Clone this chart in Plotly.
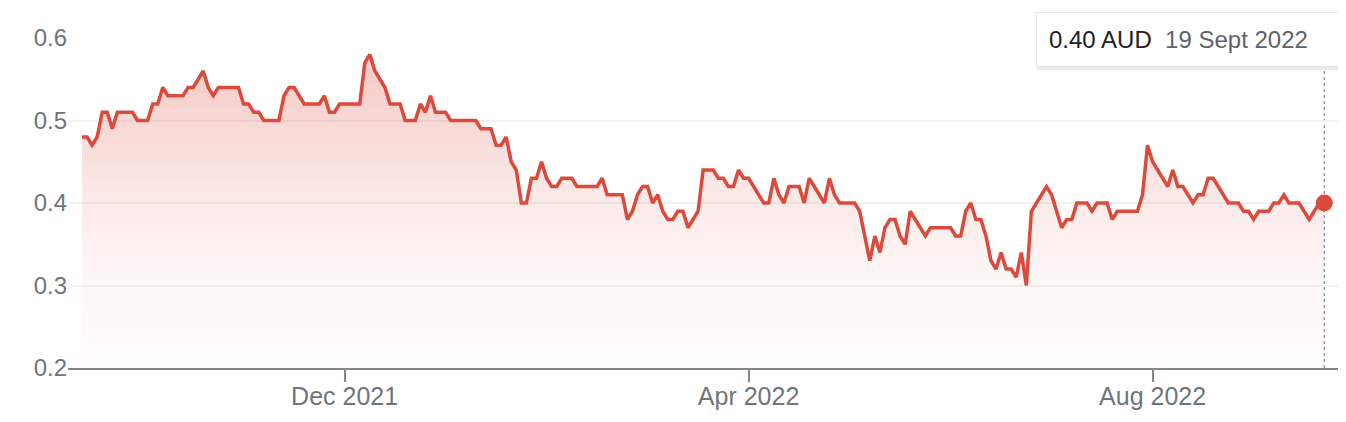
import plotly.graph_objects as go

# Daily closing price (AUD), one value per trading session, oldest first
prices = [
    0.48, 0.48, 0.47, 0.48, 0.51, 0.51, 0.49, 0.51, 0.51, 0.51,
    0.51, 0.50, 0.50, 0.50, 0.52, 0.52, 0.54, 0.53, 0.53, 0.53,
    0.53, 0.54, 0.54, 0.55, 0.56, 0.54, 0.53, 0.54, 0.54, 0.54,
    0.54, 0.54, 0.52, 0.52, 0.51, 0.51, 0.50, 0.50, 0.50, 0.50,
    0.53, 0.54, 0.54, 0.53, 0.52, 0.52, 0.52, 0.52, 0.53, 0.51,
    0.51, 0.52, 0.52, 0.52, 0.52, 0.52, 0.57, 0.58, 0.56, 0.55,
    0.54,
    0.52, 0.52, 0.52, 0.50, 0.50, 0.50, 0.52, 0.51, 0.53, 0.51,
    0.51, 0.51, 0.50, 0.50, 0.50, 0.50, 0.50, 0.50, 0.49, 0.49,
    0.49, 0.47, 0.47, 0.48, 0.45, 0.44, 0.40, 0.40, 0.43, 0.43,
    0.45, 0.43, 0.42, 0.42, 0.43, 0.43, 0.43, 0.42, 0.42, 0.42,
    0.42, 0.42, 0.43, 0.41, 0.41, 0.41, 0.41, 0.38, 0.39, 0.41,
    0.42, 0.42, 0.40, 0.41, 0.39, 0.38, 0.38, 0.39, 0.39, 0.37,
    0.38, 0.39,
    0.44, 0.44, 0.44, 0.43, 0.43, 0.42, 0.42, 0.44, 0.43, 0.43,
    0.42, 0.41, 0.40, 0.40, 0.43, 0.41, 0.40, 0.42, 0.42, 0.42,
    0.40, 0.43, 0.42, 0.41, 0.40, 0.43, 0.41, 0.40, 0.40, 0.40,
    0.40, 0.39, 0.36, 0.33, 0.36, 0.34, 0.37, 0.38, 0.38, 0.36,
    0.35, 0.39, 0.38, 0.37, 0.36, 0.37, 0.37, 0.37, 0.37, 0.37,
    0.36, 0.36, 0.39, 0.40, 0.38, 0.38, 0.36, 0.33, 0.32, 0.34,
    0.32, 0.32,
    0.31, 0.34, 0.30, 0.39, 0.40, 0.41, 0.42, 0.41, 0.39, 0.37,
    0.38, 0.38, 0.40, 0.40, 0.40, 0.39, 0.40, 0.40, 0.40, 0.38,
    0.39, 0.39, 0.39, 0.39, 0.39, 0.41, 0.47, 0.45, 0.44, 0.43,
    0.42, 0.44, 0.42, 0.42, 0.41, 0.40, 0.41, 0.41, 0.43, 0.43,
    0.42, 0.41, 0.40, 0.40, 0.40, 0.39, 0.39, 0.38, 0.39, 0.39,
    0.39, 0.40, 0.40, 0.41, 0.40, 0.40, 0.40, 0.39, 0.38, 0.39,
    0.40, 0.40,
]
sessions = list(range(len(prices)))

# Month ticks: session index of the first session of each labelled month
tick_sessions = [52, 132, 212]
tick_labels = ["Dec 2021", "Apr 2022", "Aug 2022"]

y_ticks = [0.2, 0.3, 0.4, 0.5, 0.6]

last_price_label = "0.40 AUD"
last_date_label = "19 Sept 2022"

RED = "#db4a3b"
FONT = "Arial, 'Liberation Sans', Helvetica, sans-serif"
GREY = "#70757a"

fig = go.Figure()
fig.add_trace(go.Scatter(
    x=sessions, y=prices, mode="lines",
    line=dict(color=RED, width=3.5),
    fill="tozeroy",
    fillgradient=dict(
        type="vertical",
        start=y_ticks[0], stop=max(prices),
        colorscale=[
            [0.0, "rgba(219,68,55,0.01)"],
            [0.26, "rgba(219,68,55,0.04)"],
            [0.53, "rgba(219,68,55,0.11)"],
            [0.79, "rgba(219,68,55,0.21)"],
            [1.0, "rgba(219,68,55,0.29)"],
        ],
    ),
    hoverinfo="skip", showlegend=False,
))
fig.add_trace(go.Scatter(
    x=[sessions[-1]], y=[prices[-1]], mode="markers",
    marker=dict(color=RED, size=17, line=dict(width=0)),
    hoverinfo="skip", showlegend=False, cliponaxis=False,
))

fig.add_shape(
    type="line", xref="x", yref="paper", layer="below",
    x0=sessions[-1], x1=sessions[-1], y0=0, y1=0.905,
    line=dict(color="#9aa0a6", width=1.5, dash="dot"),
)

# tooltip shadow
fig.add_shape(
    type="rect", xref="paper", yref="paper",
    x0=0.7580, x1=0.9960, y0=0.902, y1=1.072,
    line=dict(width=0), fillcolor="rgba(0,0,0,0.08)", layer="above",
)
fig.add_annotation(
    xref="paper", yref="paper", x=0.9953, y=1.0788,
    xanchor="right", yanchor="top", showarrow=False,
    text=(f"<span style='color:#202124'>{last_price_label}</span>&nbsp;&nbsp;"
          f"<span style='color:#5f6368'>{last_date_label}</span>"),
    font=dict(family=FONT, size=24),
    align="left", width=278, height=29,
    bgcolor="white", bordercolor="#e6e6e6", borderwidth=1, borderpad=12,
)

n = len(prices)
# the page body adds an 8px offset, so the figure is 8px smaller on those sides
fig.update_layout(
    width=1338, height=414,
    margin=dict(l=60, r=0, t=30, b=54),
    paper_bgcolor="white", plot_bgcolor="white",
    font=dict(family=FONT, size=24, color=GREY),
    xaxis=dict(
        range=[-2.77, (n - 1) + 4.3],
        tickvals=tick_sessions, ticktext=tick_labels,
        showgrid=False, zeroline=False,
        showline=True, linecolor="#80868b", linewidth=2,
        ticks="outside", ticklen=12, tickwidth=1.5, tickcolor="#80868b",
        tickfont=dict(size=25, color=GREY),
        ticklabelstandoff=-7,
    ),
    yaxis=dict(
        range=[0.2, 0.6],
        tickvals=y_ticks, tickformat=".1f",
        showgrid=True, gridcolor="#f1f1f1", gridwidth=1.5,
        zeroline=False, showline=False, ticks="",
        tickfont=dict(size=24, color=GREY),
    ),
)

fig.write_html("out.html")
